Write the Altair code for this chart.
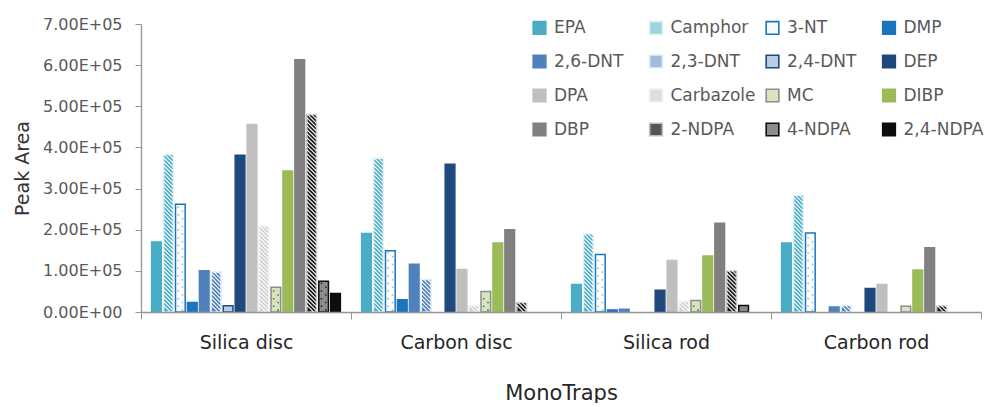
import altair as alt
import pandas as pd

# ---------------- data ----------------
groups = ["Silica disc", "Carbon disc", "Silica rod", "Carbon rod"]
compounds = ["EPA", "Camphor", "3-NT", "DMP",
             "2,6-DNT", "2,3-DNT", "2,4-DNT", "DEP",
             "DPA", "Carbazole", "MC", "DIBP",
             "DBP", "2-NDPA", "4-NDPA", "2,4-NDPA"]

silica_disc = [170000, 383000, 262000, 23000, 100000, 97000, 15000, 381000,
               456000, 209000, 60000, 343000, 613000, 480000, 75000, 45000]
carbon_disc = [191000, 374000, 149000, 30000, 116000, 79000, 0, 359000,
               103000, 16000, 50000, 168000, 200000, 23000, 0, 0]
silica_rod = [67000, 190000, 140000, 5000, 6500, 0, 0, 53000,
              125000, 26000, 28000, 136000, 216000, 100000, 16000, 0]
carbon_rod = [168000, 284000, 192000, 0, 12000, 16000, 0, 57000,
              67000, 0, 14000, 102000, 156000, 15000, 0, 0]

y_ticks = [0, 100000, 200000, 300000, 400000, 500000, 600000, 700000]

# ---------------- styles ----------------
FONT = "DejaVu Sans"
AXIS_COLOR = "#969696"

bar_fill = ["#4BACC6", "#4BACC6", "#FFFFFF", "#1B75BC",
            "#4F81BD", "#4F81BD", "#B9CDE5", "#1F497D",
            "#BFBFBF", "#D0D0D0", "#D7E4BD", "#9BBB59",
            "#808080", "#1A1A1A", "#8C8C8C", "#0D0D0D"]
bar_stroke = ["#4BACC6", "#DAEEF3", "#1B75BC", "#1B75BC",
              "#4F81BD", "#DCE6F2", "#1F497D", "#1F497D",
              "#BFBFBF", "#EDEDED", "#8C8C8C", "#9BBB59",
              "#808080", "#BFBFBF", "#0D0D0D", "#0D0D0D"]
legend_fill = ["#4BACC6", "#9FD2E0", "#F2F8FC", "#1B75BC",
               "#4F81BD", "#A2BCDD", "#B9CDE5", "#1F497D",
               "#BFBFBF", "#DEDEDE", "#D7E4BD", "#9BBB59",
               "#808080", "#555555", "#8C8C8C", "#0D0D0D"]

striped = ["Camphor", "2,3-DNT", "Carbazole", "2-NDPA"]
dotted = {"3-NT": "#7FC4DD", "2,4-DNT": "#1F497D", "MC": "#5E7040", "4-NDPA": "#262626"}

STRIPE_STEP = 9700      # vertical period of hatch lines (data units)
DOT_STEP = 18500        # vertical period of dot pairs (data units)
BAR_SYMBOL = 93.5       # symbol area matching the bar width

rows = []
for g, vals in zip(groups, [silica_disc, carbon_disc, silica_rod, carbon_rod]):
    for c, v in zip(compounds, vals):
        rows.append({"MonoTraps": g, "compound": c, "value": v})
df = pd.DataFrame(rows)

# ---------------- encodings ----------------
x_enc = alt.X(
    "MonoTraps:N",
    scale=alt.Scale(domain=groups, paddingInner=0, paddingOuter=0),
    axis=alt.Axis(
        title="MonoTraps", labelAngle=0, tickBand="extent", zindex=1,
        domainColor=AXIS_COLOR, tickColor=AXIS_COLOR, tickSize=7, domainWidth=1.3,
        labelFont=FONT, labelFontSize=19, labelColor="#262626", labelPadding=14,
        titleFont=FONT, titleFontSize=21, titleColor="#262626",
        titleFontWeight="normal", titlePadding=30,
    ),
)
xoff_enc = alt.XOffset(
    "compound:N",
    scale=alt.Scale(domain=compounds, paddingInner=0.19, paddingOuter=0.89),
)


def y_enc(field):
    return alt.Y(
        f"{field}:Q",
        scale=alt.Scale(domain=[0, 700000], nice=False, zero=True),
        axis=alt.Axis(
            title="Peak Area", values=y_ticks, grid=False,
            labelExpr="datum.value == 0 ? '0.00E+00' : format(datum.value / 100000, '.2f') + 'E+05'",
            domainColor=AXIS_COLOR, tickColor=AXIS_COLOR, tickSize=6, domainWidth=1.3,
            labelFont=FONT, labelFontSize=16, labelColor="#595959", labelPadding=13,
            titleFont=FONT, titleFontSize=19, titleColor="#333333",
            titleFontWeight="normal", titlePadding=10,
        ),
    )


base = alt.Chart(df)

bars = base.transform_filter(alt.datum.value > 0).mark_bar(strokeWidth=1.5).encode(
    x=x_enc,
    xOffset=xoff_enc,
    y=y_enc("value"),
    fill=alt.Fill("compound:N", scale=alt.Scale(domain=compounds, range=bar_fill), legend=None),
    stroke=alt.Stroke("compound:N", scale=alt.Scale(domain=compounds, range=bar_stroke), legend=None),
)

stripes = base.transform_filter(
    alt.FieldOneOfPredicate(field="compound", oneOf=striped)
).transform_filter(alt.datum.value > 0).transform_calculate(
    s=f"sequence({STRIPE_STEP // 2}, datum.value + 12000, {STRIPE_STEP})"
).transform_flatten(["s"]).mark_point(
    shape="M-1,-1L1,1", size=BAR_SYMBOL, filled=False, stroke="white",
    strokeWidth=1.1, opacity=1,
).encode(x=x_enc, xOffset=xoff_enc, y=y_enc("s"))

dot_layers = []
for comp, col in dotted.items():
    dot_layers.append(
        base.transform_filter(alt.datum.compound == comp).transform_calculate(
            s=f"sequence({DOT_STEP // 2}, datum.value - 8000, {DOT_STEP})"
        ).transform_flatten(["s"]).mark_point(
            shape="M-0.61,-0.56h0.32v0.32h-0.32zM0.29,0.24h0.32v0.32h-0.32z",
            size=BAR_SYMBOL, filled=True, fill=col, strokeWidth=0, opacity=1,
        ).encode(x=x_enc, xOffset=xoff_enc, y=y_enc("s"))
    )

legend_def = alt.Legend(
    title=None, orient="none", legendX=390, legendY=-5, columns=4,
    direction="horizontal",
    symbolType="square", symbolSize=160, symbolStrokeWidth=1.6,
    labelFont=FONT, labelFontSize=17, labelColor="#595959", labelOffset=6,
    columnPadding=6.5, rowPadding=13, gridAlign="all", padding=0, labelLimit=0,
    symbolOpacity=1,
)

legend_layer = base.transform_filter(alt.datum.value < 0).mark_square(
    size=160, opacity=1, strokeWidth=1.6
).encode(
    fill=alt.Fill("compound:N", scale=alt.Scale(domain=compounds, range=legend_fill), legend=legend_def),
    stroke=alt.Stroke("compound:N", scale=alt.Scale(domain=compounds, range=bar_stroke), legend=legend_def),
)

chart = alt.layer(bars, stripes, *dot_layers, legend_layer).resolve_scale(
    fill="independent", stroke="independent"
).properties(
    width=840, height=288,
    padding={"left": 5, "top": 8, "right": 0, "bottom": 0},
    background="white",
).configure_view(stroke=None)

chart.save("out.html", embed_options={"renderer": "svg", "actions": False})
